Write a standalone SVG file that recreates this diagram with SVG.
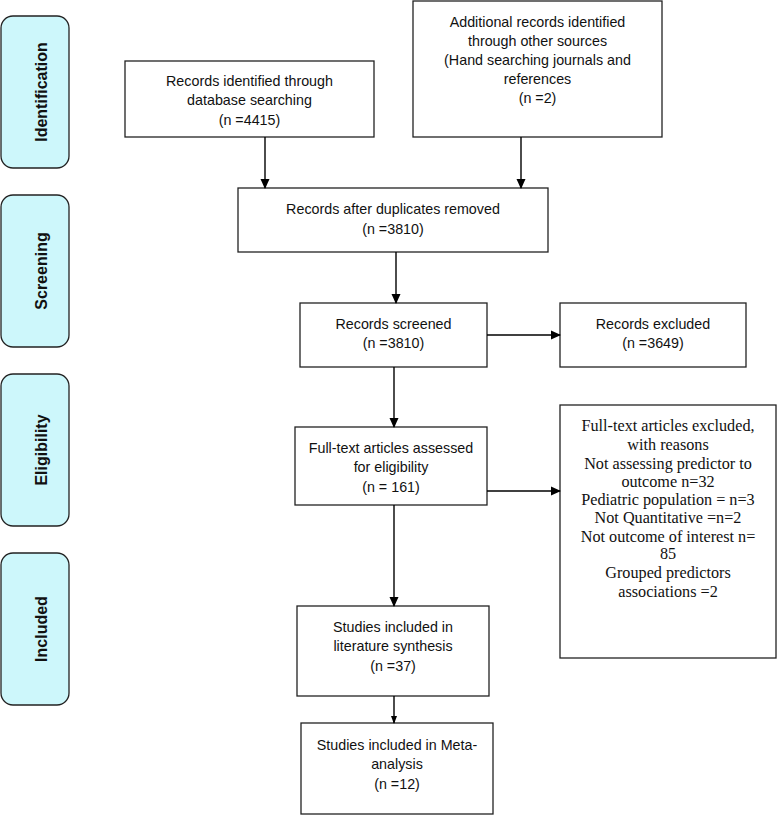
<svg xmlns="http://www.w3.org/2000/svg" width="777" height="815" viewBox="0 0 777 815">
<defs>
<marker id="ah" markerWidth="10" markerHeight="10" refX="9" refY="5" orient="auto" markerUnits="userSpaceOnUse">
<path d="M0,0.5 L10,5 L0,9.5 Z" fill="#000"/>
</marker>
<marker id="ahs" markerWidth="8" markerHeight="8" refX="7" refY="4" orient="auto" markerUnits="userSpaceOnUse">
<path d="M0,1 L8,4 L0,7 Z" fill="#000"/>
</marker>
<style>
.phase{fill:#cdf7fb;stroke:#222;stroke-width:1.3}
.pt{font-family:"Liberation Sans",Arial,sans-serif;font-weight:bold;font-size:16px;fill:#111;text-anchor:middle}
.box{fill:#fff;stroke:#222;stroke-width:1.3}
.t{font-family:"Liberation Sans",Arial,sans-serif;font-size:14.3px;fill:#111;text-anchor:middle}
.s{font-family:"Liberation Serif","Times New Roman",serif;font-size:16.2px;fill:#111;text-anchor:middle}
.c{stroke:#000;stroke-width:1.4;fill:none}
</style>
</defs>
<g id="phase-identification"><rect class="phase" x="1" y="16" width="68" height="152" rx="12"/><text class="pt" transform="translate(47,92) rotate(-90)">Identification</text></g>
<g id="phase-screening"><rect class="phase" x="1" y="195" width="68" height="152" rx="12"/><text class="pt" transform="translate(47,271) rotate(-90)">Screening</text></g>
<g id="phase-eligibility"><rect class="phase" x="1" y="374" width="68" height="152" rx="12"/><text class="pt" transform="translate(47,450) rotate(-90)">Eligibility</text></g>
<g id="phase-included"><rect class="phase" x="1" y="553" width="68" height="152" rx="12"/><text class="pt" transform="translate(47,629) rotate(-90)">Included</text></g>

<g id="db"><rect class="box" x="125" y="61" width="249" height="76"/>
<text class="t" x="249.5" y="86">Records identified through</text>
<text class="t" x="249.5" y="105">database searching</text>
<text class="t" x="249.5" y="125">(n =4415)</text></g>
<g id="other"><rect class="box" x="413" y="1" width="249" height="136"/>
<text class="t" x="537.5" y="27">Additional records identified</text>
<text class="t" x="537.5" y="46">through other sources</text>
<text class="t" x="537.5" y="65">(Hand searching journals and</text>
<text class="t" x="537.5" y="84">references</text>
<text class="t" x="537.5" y="103">(n =2)</text></g>
<g id="dedup"><rect class="box" x="238" y="188" width="310" height="64"/>
<text class="t" x="393" y="214">Records after duplicates removed</text>
<text class="t" x="393" y="234">(n =3810)</text></g>
<g id="screened"><rect class="box" x="300" y="303" width="187" height="64"/>
<text class="t" x="393.5" y="329">Records screened</text>
<text class="t" x="393.5" y="348">(n =3810)</text></g>
<g id="excluded"><rect class="box" x="560" y="303" width="186" height="64"/>
<text class="t" x="653" y="329">Records excluded</text>
<text class="t" x="653" y="348">(n =3649)</text></g>
<g id="fulltext"><rect class="box" x="295" y="427" width="192" height="78"/>
<text class="t" x="391" y="453">Full-text articles assessed</text>
<text class="t" x="391" y="472">for eligibility</text>
<text class="t" x="391" y="492">(n = 161)</text></g>
<g id="reasons"><rect class="box" x="560" y="405" width="216" height="253"/>
<text class="s" x="668" y="431">Full-text articles excluded,</text>
<text class="s" x="668" y="450">with reasons</text>
<text class="s" x="668" y="469">Not assessing predictor to</text>
<text class="s" x="668" y="487">outcome n=32</text>
<text class="s" x="668" y="505">Pediatric population = n=3</text>
<text class="s" x="668" y="523">Not Quantitative =n=2</text>
<text class="s" x="668" y="542">Not outcome of interest n=</text>
<text class="s" x="668" y="559">85</text>
<text class="s" x="668" y="578">Grouped predictors</text>
<text class="s" x="668" y="597">associations =2</text></g>
<g id="synthesis"><rect class="box" x="297" y="606" width="192" height="90"/>
<text class="t" x="393" y="632">Studies included in</text>
<text class="t" x="393" y="651">literature synthesis</text>
<text class="t" x="393" y="671">(n =37)</text></g>
<g id="meta"><rect class="box" x="301" y="723" width="192" height="91"/>
<text class="t" x="397" y="750">Studies included in Meta-</text>
<text class="t" x="397" y="769">analysis</text>
<text class="t" x="397" y="789">(n =12)</text></g>

<g id="connectors">
<line class="c" x1="265" y1="137" x2="265" y2="188" marker-end="url(#ah)"/>
<line class="c" x1="521" y1="137" x2="521" y2="188" marker-end="url(#ah)"/>
<line class="c" x1="396" y1="252" x2="396" y2="303" marker-end="url(#ah)"/>
<line class="c" x1="487" y1="335" x2="560" y2="335" marker-end="url(#ah)"/>
<line class="c" x1="394" y1="367" x2="394" y2="427" marker-end="url(#ah)"/>
<line class="c" x1="487" y1="491" x2="560" y2="491" marker-end="url(#ah)"/>
<line class="c" x1="394" y1="505" x2="394" y2="606" marker-end="url(#ah)"/>
<line class="c" x1="394" y1="696" x2="394" y2="723" marker-end="url(#ahs)"/>
</g>
</svg>
